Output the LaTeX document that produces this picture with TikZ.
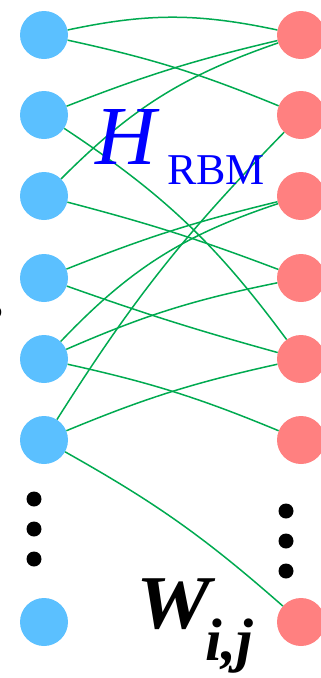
\documentclass[tikz,border=0pt]{standalone}
\usepackage{fontspec}
\setmainfont{Liberation Serif}
\begin{document}
\begin{tikzpicture}[x=1pt,y=-1pt,
  vis/.style={circle,fill=visblue,draw=none,minimum size=48pt,inner sep=0pt},
  hid/.style={circle,fill=hidred,draw=none,minimum size=48pt,inner sep=0pt},
  dotn/.style={circle,fill=black,draw=none,minimum size=15pt,inner sep=0pt},
  wire/.style={draw=wiregreen,line width=1.5pt},
  lbl/.style={anchor=base west,inner sep=0pt,outer sep=0pt}]
\definecolor{visblue}{RGB}{91,192,255}
\definecolor{hidred}{RGB}{255,128,128}
\definecolor{wiregreen}{RGB}{0,170,80}
\useasboundingbox (0,0) rectangle (321,678);
\begin{scope}
\clip (0,0) rectangle (321,678);
% visible units
\node[vis] (b1) at (44,35) {};
\node[vis] (b2) at (44,115) {};
\node[vis] (b3) at (44,196) {};
\node[vis] (b4) at (44,278) {};
\node[vis] (b5) at (44,359) {};
\node[vis] (b6) at (44,440) {};
\node[vis] (b7) at (44,622) {};
% hidden units
\node[hid] (r1) at (301,35) {};
\node[hid] (r2) at (301,115) {};
\node[hid] (r3) at (301,196) {};
\node[hid] (r4) at (301,278) {};
\node[hid] (r5) at (301,359) {};
\node[hid] (r6) at (301,440) {};
\node[hid] (r7) at (301,622) {};
% dots
\node[dotn] (ld1) at (34,499) {};
\node[dotn] (ld2) at (34,529) {};
\node[dotn] (ld3) at (34,559) {};
\node[dotn] (rd1) at (286,511) {};
\node[dotn] (rd2) at (286,541) {};
\node[dotn] (rd3) at (286,571) {};
% connections
\draw[wire] (b1) to[bend left=12] (r1);
\draw[wire] (b1) to[bend left=5] (r2);
\draw[wire] (b2) to[bend left=4] (r1);
\draw[wire] (b3) to[bend left=13] (r1);
\draw[wire] (b2) to[bend left=10] (r5);
\draw[wire] (b3) to[bend left=3] (r4);
\draw[wire] (b6) to[bend left=6] (r2);
\draw[wire] (b4) to[bend left=4] (r3);
\draw[wire] (b5) to[bend left=14] (r3);
\draw[wire] (b4) to[bend right=2] (r5);
\draw[wire] (b5) to[bend left=6] (r4);
\draw[wire] (b5) to[bend left=5] (r6);
\draw[wire] (b6) to[bend left=5] (r5);
\draw[wire] (b6) to[bend left=6] (r7);
% labels
\node[lbl,text=blue,font=\fontsize{84}{84}\selectfont\itshape] (h) at (95,164) {H};
\node[lbl,text=blue,font=\fontsize{44}{44}\selectfont] (rbm) at (167,184) {RBM};
\node[lbl,xscale=1.1,font=\fontsize{76}{76}\selectfont\bfseries\itshape] (w) at (136,628) {W};
\node[lbl,font=\fontsize{60}{60}\selectfont\bfseries\itshape] (ij) at (205,660) {i,j};
\node[lbl,font=\fontsize{46}{46}\selectfont] (s) at (-14,318) {s};
\end{scope}
\end{tikzpicture}
\end{document}
